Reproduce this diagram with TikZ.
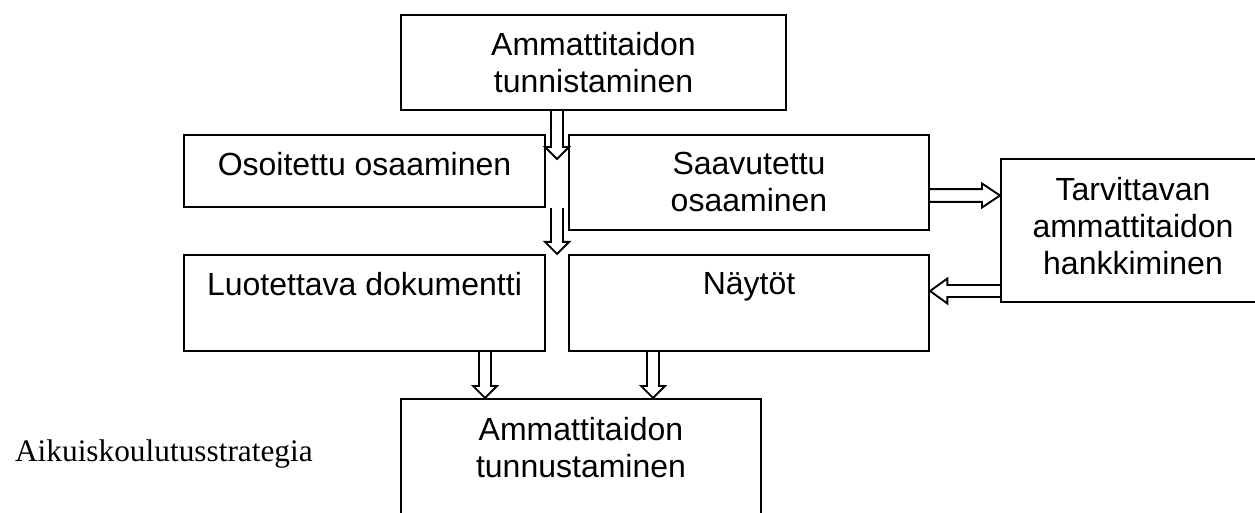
\documentclass[tikz,border=0pt]{standalone}
\usepackage{fontspec}
\setmainfont{Liberation Sans}
\newfontfamily\timesfont{Liberation Serif}
\usetikzlibrary{calc}

\tikzset{
  box/.style={draw, line width=1.6pt, inner sep=0pt},
  txt/.style={anchor=north, inner sep=0pt, align=center,
    font=\fontsize{24}{27.75}\selectfont},
  hollow/.style={draw, line width=1.4pt, line join=miter},
  % block arrows, drawn from start to target
  hdown/.style={hollow, to path={let \p1=(\tikztostart), \p2=(\tikztotarget) in
    (\x1-4.5pt,\y1) -- (\x1-4.5pt,\y2+9pt) -- (\x1-9pt,\y2+9pt) -- (\x1,\y2)
    -- (\x1+9pt,\y2+9pt) -- (\x1+4.5pt,\y2+9pt) -- (\x1+4.5pt,\y1)}},
  hright/.style={hollow, to path={let \p1=(\tikztostart), \p2=(\tikztotarget) in
    (\x1,\y1+4.8pt) -- (\x2-13.5pt,\y1+4.8pt) -- (\x2-13.5pt,\y1+9pt) -- (\x2,\y1)
    -- (\x2-13.5pt,\y1-9pt) -- (\x2-13.5pt,\y1-4.8pt) -- (\x1,\y1-4.8pt)}},
  hleft/.style={hollow, to path={let \p1=(\tikztostart), \p2=(\tikztotarget) in
    (\x1,\y1+4.5pt) -- (\x2+13pt,\y1+4.5pt) -- (\x2+13pt,\y1+9.4pt) -- (\x2,\y1)
    -- (\x2+13pt,\y1-9.4pt) -- (\x2+13pt,\y1-4.5pt) -- (\x1,\y1-4.5pt)}}
}

\begin{document}
\begin{tikzpicture}[x=0.75pt, y=-0.75pt]
    \clip (0,0) rectangle (1255,513);

    % boxes
    \node[box, minimum width=288.75pt, minimum height=71.25pt] (top) at (593.5,62.5) {};
    \node[box, minimum width=270.75pt, minimum height=54pt] (oso) at (364.5,171) {};
    \node[box, minimum width=270pt, minimum height=71.25pt] (saa) at (749,182.5) {};
    \node[box, minimum width=198pt, minimum height=107.25pt] (tar) at (1133,230.5) {};
    \node[box, minimum width=270.75pt, minimum height=72pt] (luo) at (364.5,303) {};
    \node[box, minimum width=270pt, minimum height=72pt] (nay) at (749,303) {};
    \node[box, minimum width=270pt, minimum height=121.5pt] (bot) at (581,480) {};

    % texts
    \node[txt] (top-t) at (593.5,32) {Ammattitaidon\\tunnistaminen};
    \node[txt] (oso-t) at (364.5,152) {Osoitettu osaaminen};
    \node[txt] (saa-t) at (749,152) {Saavutettu\\osaaminen};
    \node[txt] (tar-t) at (1133,177) {Tarvittavan\\ammattitaidon\\hankkiminen};
    \node[txt] (luo-t) at (364.5,272) {Luotettava dokumentti};
    \node[txt] (nay-t) at (749,272) {Näytöt};
    \node[txt] (bot-t) at (581,417) {Ammattitaidon\\tunnustaminen};
    \node[anchor=base east, inner sep=0pt, font=\timesfont\fontsize{23.5}{27}\selectfont]
        (strat) at (313,461) {Aikuiskoulutusstrategia};

    % arrows
    \coordinate (c1) at (557,159);
    \coordinate (r1) at (0,195.5);
    \coordinate (l1) at (0,291);
    \coordinate (d1) at (485,0);
    \coordinate (d2) at (653,0);

    \draw[hdown] (top.south -| c1) to (c1);
    \draw[hdown] (oso.south -| c1) to (luo.north -| c1);
    \draw[hright] (saa.east |- r1) to (tar.west |- r1);
    \draw[hleft] (tar.west |- l1) to (nay.east |- l1);
    \draw[hdown] (luo.south -| d1) to (bot.north -| d1);
    \draw[hdown] (nay.south -| d2) to (bot.north -| d2);
\end{tikzpicture}
\end{document}
